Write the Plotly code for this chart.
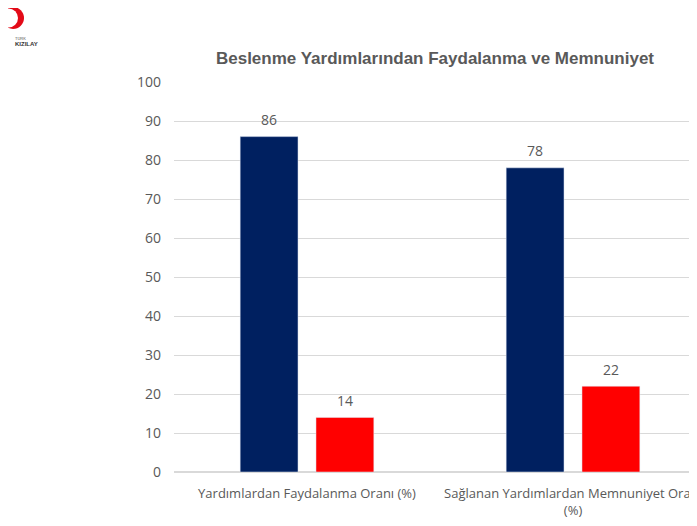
import plotly.graph_objects as go

categories = ["Yardımlardan Faydalanma Oranı (%)",
              "Sağlanan Yardımlardan Memnuniyet Oranı<br>(%)"]
evet = [86, 78]
hayir = [14, 22]

# page body adds an 8px margin, so the figure is laid out 8px up/left
W, H = 697, 526
L, T, B = 166, 74, 62
pw = W - L            # plot runs past the right edge, as in the reference
ph = H - T - B
slot = 266            # pixels per category

fig = go.Figure()
fig.add_trace(go.Bar(x=categories, y=evet, name="Evet", marker_color="#002060"))
fig.add_trace(go.Bar(x=categories, y=hayir, name="Hayır", marker_color="#FF0000"))

# value labels
for i, c in enumerate(categories):
    for val, dx in ((evet[i], -38), (hayir[i], 38)):
        fig.add_annotation(x=c, y=val, text=str(val), showarrow=False,
                           xshift=dx, yshift=17,
                           font=dict(color="#595959", size=14, family="Open Sans"))

fig.update_layout(
    width=W, height=H,
    margin=dict(l=L, r=0, t=T, b=B, autoexpand=False),
    plot_bgcolor="white", paper_bgcolor="white",
    showlegend=False,
    barmode="group", bargap=0.43, bargroupgap=0.237,
    title=dict(text="<b>Beslenme Yardımlarından Faydalanma ve Memnuniyet</b>",
               x=427 / W, xanchor="center", y=1 - 50 / H, yanchor="middle",
               font=dict(family="Liberation Sans", size=17, color="#595959")),
    font=dict(family="Open Sans", color="#595959", size=13),
)
fig.update_xaxes(range=[-0.5, -0.5 + pw / slot], showline=False, ticks="",
                 ticklabelstandoff=12, tickfont=dict(size=13, color="#595959"))
fig.update_yaxes(range=[0, 100], dtick=10, gridcolor="#D9D9D9", zerolinecolor="#D9D9D9",
                 ticks="", ticklabelstandoff=12, tickfont=dict(size=14, color="#595959"))


def px_x(x):
    return (x - 8 - L) / pw


def px_y(y):
    return 1 - (y - 8 - T) / ph


# logo: crescent
fig.add_shape(type="circle", xref="paper", yref="paper",
              x0=px_x(2), x1=px_x(24), y0=px_y(29), y1=px_y(7),
              fillcolor="#E30A17", line_width=0)
fig.add_shape(type="circle", xref="paper", yref="paper",
              x0=px_x(-1), x1=px_x(18), y0=px_y(27.5), y1=px_y(8.5),
              fillcolor="white", line_width=0)
fig.add_annotation(text="TÜRK", xref="paper", yref="paper",
                   x=px_x(13), y=px_y(34), showarrow=False,
                   font=dict(size=4, color="#555555", family="Liberation Sans"))
fig.add_annotation(text="<b>KIZILAY</b>", xref="paper", yref="paper",
                   x=px_x(13), y=px_y(39), showarrow=False,
                   font=dict(size=6, color="#333333", family="Liberation Sans"))

fig.write_html("out.html")
